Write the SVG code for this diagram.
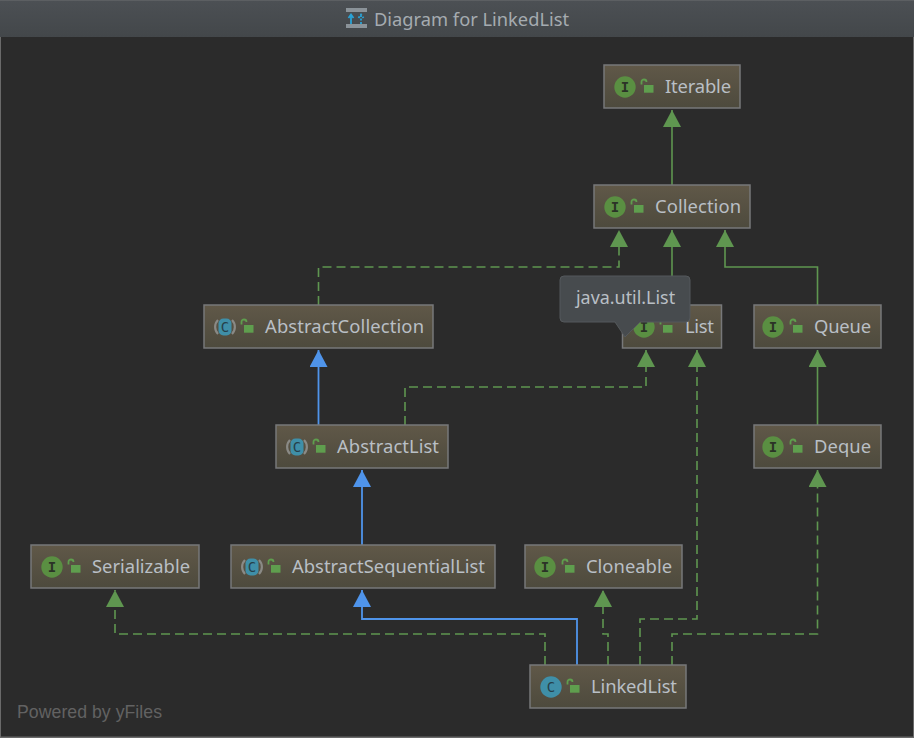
<svg xmlns="http://www.w3.org/2000/svg" xmlns:xlink="http://www.w3.org/1999/xlink" width="914" height="738" viewBox="0 0 914 738">
<style>
.t{font-family:"Noto Sans","Open Sans",sans-serif;font-size:18.4px;fill:#b9bfc5}
.box{stroke:#77787a;stroke-width:1.5;fill:url(#nodeFill)}
.g{fill:none;stroke:#5f9650;stroke-width:1.6}
.d{stroke-dasharray:9 5}
.b{fill:none;stroke:#4f94ea;stroke-width:1.8}
.ic{font-family:"DejaVu Sans Mono",monospace;font-size:14px;text-anchor:middle}
</style>
<defs>
<linearGradient id="nodeFill" x1="0" y1="0" x2="0" y2="1"><stop offset="0" stop-color="#605848"/><stop offset="1" stop-color="#4d4a3d"/></linearGradient>
<linearGradient id="bar" x1="0" y1="0" x2="0" y2="1"><stop offset="0" stop-color="#4c5054"/><stop offset="1" stop-color="#43474a"/></linearGradient>
<marker id="ga" markerUnits="userSpaceOnUse" markerWidth="18" markerHeight="18" refX="17" refY="9" orient="auto"><path d="M0 0L17 9L0 18Z" fill="#5f9650"/></marker>
<marker id="ba" markerUnits="userSpaceOnUse" markerWidth="18" markerHeight="18" refX="17" refY="9" orient="auto"><path d="M0 0L17 9L0 18Z" fill="#4f94ea"/></marker>
<g id="lock"><path d="M-6.500 -3.500V-6A2.500 2.500 0 0 1 -1.500 -6" fill="none" stroke="#5f9e4e" stroke-width="1.800"/><rect x="-4" y="-3" width="9.500" height="7.700" fill="#5f9e4e"/></g>
<g id="iI"><circle r="10.700" fill="#5a8f42"/><text class="ic" y="5" fill="#2b3327" font-weight="bold">I</text></g>
<g id="iC"><circle r="10.700" fill="#3f8fa8"/><text class="ic" y="5" fill="#26404a">C</text></g>
<g id="iA"><path d="M7 -7A10 10 0 0 1 7 7M-7 -7A10 10 0 0 0 -7 7" fill="none" stroke="#8a8a86" stroke-width="2.200"/><rect x="-6.500" y="-8.500" width="13" height="17" rx="5" fill="#3f8fa8"/><text class="ic" y="5" fill="#26404a">C</text></g>
</defs>
<rect width="914" height="738" fill="#2b2b2b"/>
<g id="titlebar">
<rect width="914" height="37" fill="url(#bar)"/>
<rect y="0" width="914" height="1" fill="#5c5f62"/>
<rect x="346" y="8" width="21" height="4" fill="#8b9399"/><rect x="346" y="24" width="21" height="4" fill="#8b9399"/>
<path d="M351 24V15M348.500 18L351 14.500L353.500 18" fill="none" stroke="#2aa3d6" stroke-width="1.800"/>
<path d="M361 24V15M358.500 18L361 14.500L363.500 18" fill="none" stroke="#2aa3d6" stroke-width="1.800" stroke-dasharray="2 1.500"/>
<text x="374" y="25.500" class="t" style="fill:#a5abb0;font-size:18.300px">Diagram for LinkedList</text>
</g>
<g id="connectors">
<path class="g" marker-end="url(#ga)" d="M672 185V110"/>
<path class="g" marker-end="url(#ga)" d="M672 305V230"/>
<path class="g d" marker-end="url(#ga)" d="M318.500 305V267H619V230"/>
<path class="g" marker-end="url(#ga)" d="M817.500 305V267H725V230"/>
<path class="g" marker-end="url(#ga)" d="M817.500 425V350"/>
<path class="g d" marker-end="url(#ga)" d="M405 425V387H646V350"/>
<path class="g d" marker-end="url(#ga)" d="M640 665V619H697V350"/>
<path class="b" marker-end="url(#ba)" d="M318.500 425V350"/>
<path class="b" marker-end="url(#ba)" d="M362 545V470"/>
<path class="b" marker-end="url(#ba)" d="M577 665V619H362V590"/>
<path class="g d" marker-end="url(#ga)" d="M545 665V634H115V590"/>
<path class="g d" marker-end="url(#ga)" d="M608 665V634H603V590"/>
<path class="g d" marker-end="url(#ga)" d="M672 665V634H817.500V470"/>
</g>
<g id="n-iterable"><rect class="box" x="604" y="65" width="136" height="43"/><use href="#iI" x="625" y="87"/><use href="#lock" x="648" y="88"/><text class="t" x="665" y="92.500" textLength="66">Iterable</text></g>
<g id="n-collection"><rect class="box" x="594" y="185" width="156" height="43"/><use href="#iI" x="615" y="207"/><use href="#lock" x="638" y="208"/><text class="t" x="655" y="212.500" textLength="86">Collection</text></g>
<g id="n-abstractcollection"><rect class="box" x="204" y="305" width="229" height="43"/><use href="#iA" x="225" y="327"/><use href="#lock" x="248" y="328"/><text class="t" x="265" y="332.500" textLength="159">AbstractCollection</text></g>
<g id="n-list"><rect class="box" x="622.500" y="305" width="99" height="43"/><use href="#iI" x="644" y="327"/><use href="#lock" x="667" y="328"/><text class="t" x="685" y="332.500" textLength="29">List</text></g>
<g id="n-queue"><rect class="box" x="754" y="305" width="127" height="43"/><use href="#iI" x="773" y="327"/><use href="#lock" x="797" y="328"/><text class="t" x="814" y="332.500" textLength="57">Queue</text></g>
<g id="n-abstractlist"><rect class="box" x="276" y="425" width="172" height="43"/><use href="#iA" x="297" y="447"/><use href="#lock" x="320" y="448"/><text class="t" x="337" y="452.500" textLength="102">AbstractList</text></g>
<g id="n-deque"><rect class="box" x="754" y="425" width="127" height="43"/><use href="#iI" x="773" y="447"/><use href="#lock" x="797" y="448"/><text class="t" x="814" y="452.500" textLength="57">Deque</text></g>
<g id="n-serializable"><rect class="box" x="31" y="545" width="168" height="43"/><use href="#iI" x="52" y="567"/><use href="#lock" x="75" y="568"/><text class="t" x="92" y="572.500" textLength="98">Serializable</text></g>
<g id="n-abstractsequentiallist"><rect class="box" x="231" y="545" width="264" height="43"/><use href="#iA" x="252" y="567"/><use href="#lock" x="275" y="568"/><text class="t" x="292" y="572.500" textLength="193">AbstractSequentialList</text></g>
<g id="n-cloneable"><rect class="box" x="525" y="545" width="157" height="43"/><use href="#iI" x="545" y="567"/><use href="#lock" x="569" y="568"/><text class="t" x="586" y="572.500" textLength="86">Cloneable</text></g>
<g id="n-linkedlist"><rect class="box" x="530" y="665" width="156" height="43"/><use href="#iC" x="551" y="687"/><use href="#lock" x="574" y="688"/><text class="t" x="591" y="692.500" textLength="86">LinkedList</text></g>
<g id="tooltip">
<path d="M564 276H686A4 4 0 0 1 690 280V318A4 4 0 0 1 686 322H640L625 337L615 322H564A4 4 0 0 1 560 318V280A4 4 0 0 1 564 276Z" fill="#474b4e" stroke="#55595c" stroke-width="1"/>
<text class="t" x="576" y="304" style="font-size:17.900px">java.util.List</text>
</g>
<text x="17" y="718" font-family="Liberation Sans, Arial, sans-serif" font-size="17.700" fill="#626262" textLength="145">Powered by yFiles</text>
<g id="frame"><rect x="0" y="37" width="1" height="701" fill="#6a6a6a"/><rect x="913" y="37" width="1" height="701" fill="#6a6a6a"/><rect x="0" y="736.500" width="914" height="1.500" fill="#6a6a6a"/></g>
</svg>
